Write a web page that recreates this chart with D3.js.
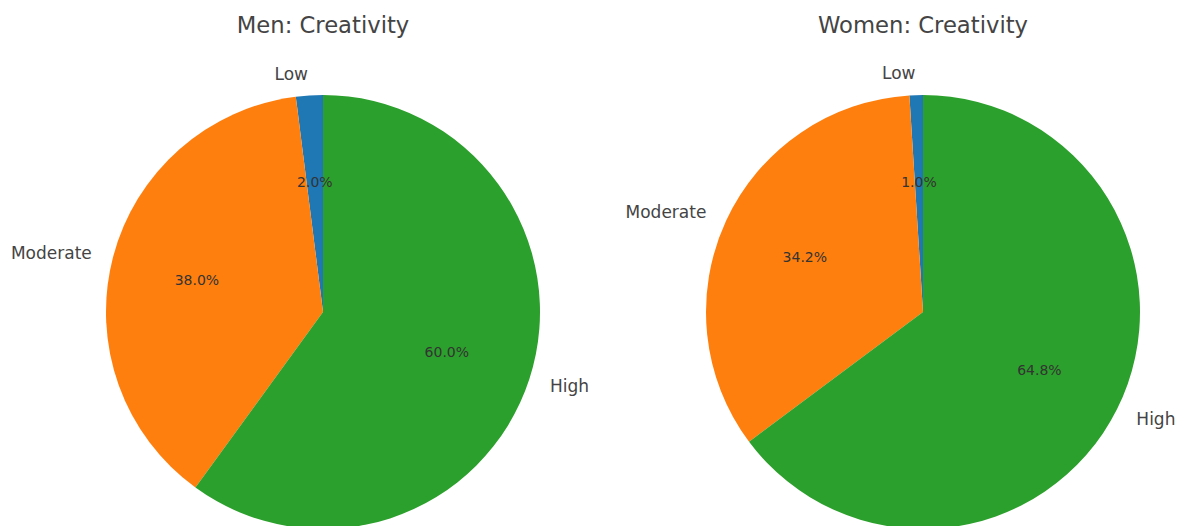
<!DOCTYPE html>
<html><head><meta charset="utf-8">
<script src="https://cdn.jsdelivr.net/npm/d3@7"></script>
<style>body{margin:0;background:#fff}svg{display:block}</style>
</head><body>
<svg id="c" width="1187" height="526"></svg>
<script>
const categories = ["Low", "Moderate", "High"];
const menValues = [2.0, 38.0, 60.0];
const womenValues = [1.0, 34.2, 64.8];
const titles = ["Men: Creativity", "Women: Creativity"];
const colors = ["#1f77b4", "#ff7f0e", "#2ca02c"];

const svg = d3.select("#c");
const r = 217;
const centers = [[323, 312], [923, 312]];
const font = "'DejaVu Sans', sans-serif";
const color = d3.scaleOrdinal().domain(categories).range(colors);

[menValues, womenValues].forEach((vals, i) => {
  const data = categories.map((c, j) => ({cat: c, value: vals[j]}));
  const pie = d3.pie().value(d => d.value).sort(null)
    .startAngle(0).endAngle(-2 * Math.PI);
  const arcs = pie(data);
  const arc = d3.arc().innerRadius(0).outerRadius(r);
  const g = svg.append("g").attr("transform", `translate(${centers[i][0]},${centers[i][1]})`);
  g.selectAll("path").data(arcs).join("path")
    .attr("d", arc).attr("fill", d => color(d.data.cat));
  arcs.forEach(d => {
    const mid = (d.startAngle + d.endAngle) / 2;
    const lx = Math.sin(mid) * r * 1.1, ly = -Math.cos(mid) * r * 1.1;
    g.append("text").attr("x", lx).attr("y", ly)
      .attr("text-anchor", lx < 0 ? "end" : "start")
      .attr("dominant-baseline", "central")
      .attr("font-family", font).attr("font-size", 17).attr("fill", "#444")
      .text(d.data.cat);
    const px = Math.sin(mid) * r * 0.6, py = -Math.cos(mid) * r * 0.6;
    g.append("text").attr("x", px).attr("y", py)
      .attr("text-anchor", "middle").attr("dominant-baseline", "central")
      .attr("font-family", font).attr("font-size", 14).attr("fill", "#333")
      .text(d.data.value.toFixed(1) + "%");
  });
  svg.append("text").attr("x", centers[i][0]).attr("y", 25)
    .attr("text-anchor", "middle").attr("dominant-baseline", "central")
    .attr("font-family", font).attr("font-size", 22.7).attr("fill", "#444")
    .text(titles[i]);
});
</script>
</body></html>
